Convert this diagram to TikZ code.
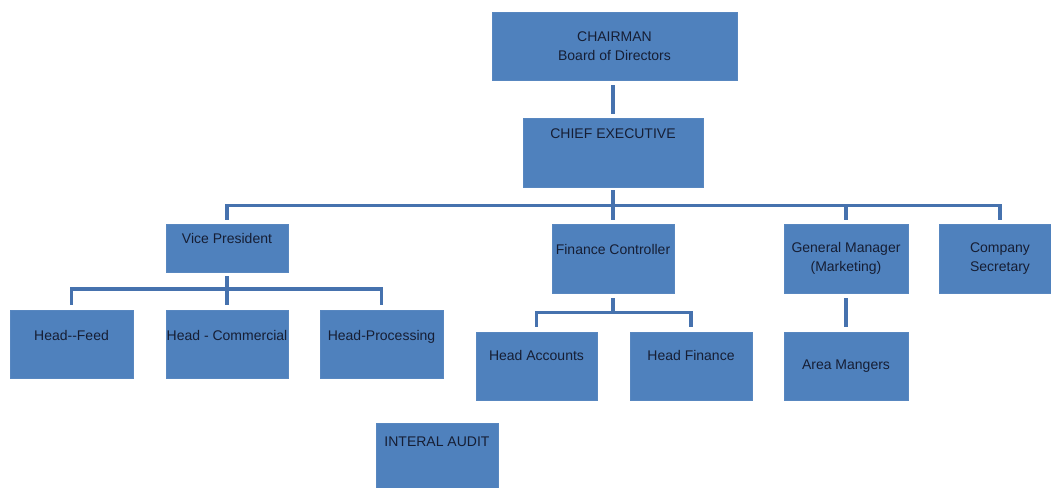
\documentclass[tikz,border=0pt]{standalone}
\usepackage{fontspec}
\setmainfont{Liberation Sans}
\usetikzlibrary{calc}
\definecolor{boxblue}{RGB}{79, 129, 189}
\definecolor{linkblue}{RGB}{70, 114, 174}
\definecolor{ink}{RGB}{22, 30, 52}

\tikzset{
  unit/.style={draw=boxblue!95!white, fill=boxblue, text=ink, inner sep=0pt,
    minimum width=122pt, minimum height=68pt, align=center,
    font=\fontsize{14pt}{18.5pt}\selectfont},
  lift/.style={text height=10pt, text depth={3pt+2*#1}},
  link/.style={draw=linkblue, line width=3.5pt, line cap=rect, line join=miter}
}

\begin{document}
\begin{tikzpicture}[x=1pt, y=-1pt]

\useasboundingbox (0,0) rectangle (1051,487);
\clip (0,0) rectangle (1051,487);

% Top of the chart
\node[unit, minimum width=245pt] (chair) at (614.5,46) {CHAIRMAN\\Board of Directors};
\node[unit, minimum width=180pt, minimum height=69pt, lift=17.5pt] (ceo) at (613,152.5) {CHIEF EXECUTIVE};

% Second level
\node[unit, minimum height=48pt, lift=8pt] (vp) at (227,248) {Vice President};
\node[unit, minimum height=69pt, lift=7.5pt] (fc) at (613,258.5) {Finance Controller};
\node[unit, minimum width=124pt, minimum height=69pt] (gm) at (846,258.5)
  {\raisebox{16pt}{\begin{tabular}{@{}c@{}}General Manager\\[1pt](Marketing)\end{tabular}}};
\node[unit, minimum height=69pt] (cs) at (1000,258.5)
  {\raisebox{7.5pt}{\begin{tabular}{@{}c@{}}Company\\[0pt]Secretary\end{tabular}}};

% Under the vice president
\node[unit, minimum width=123pt, lift=7pt] (hfeed) at (71.5,344) {Head-{}-Feed};
\node[unit, lift=7pt] (hcom) at (227,344) {Head - Commercial};
\node[unit, minimum width=123pt, lift=7pt] (hproc) at (381.5,344) {Head-Processing};

% Under the finance controller
\node[unit, minimum width=121pt, lift=9pt] (hacc) at (536.5,366) {Head Accounts};
\node[unit, lift=9pt] (hfin) at (691,366) {Head Finance};

% Under the general manager
\node[unit, minimum width=124pt] (area) at (846,366) {Area Mangers};

% Stand-alone box
\node[unit, lift=14pt] (audit) at (437,457) {INTERAL AUDIT};

% Connectors
\coordinate (bus) at ($(ceo.south)!.5!(fc.north)$);
\coordinate (vpbus) at ($(vp.south)!.45!(hcom.north)$);
\coordinate (fcbus) at ($(fc.south)!.5!(fc.south |- hacc.north)$);

\draw[link] ([yshift=-7pt]chair.south -| ceo.north) -- ([yshift=6pt]ceo.north);
\draw[link] ([yshift=-5pt]ceo.south) -- ([yshift=6pt]fc.north);
\draw[link] ([yshift=6pt]vp.north) |- (bus) -| ([yshift=6pt]cs.north);
\draw[link] (gm.north |- bus) -- ([yshift=6pt]gm.north);

\draw[link] ([yshift=-6pt]vp.south) -- ([yshift=7pt]hcom.north);
\draw[link] ([yshift=7pt]hfeed.north) |- (vpbus) -| ([yshift=7pt]hproc.north);

\draw[link] ([yshift=-7pt]fc.south) -- (fcbus);
\draw[link] ([yshift=7pt]hacc.north) |- (fcbus) -| ([yshift=7pt]hfin.north);

\draw[link] ([yshift=-7pt]gm.south) -- ([yshift=7pt]area.north);

\end{tikzpicture}
\end{document}
